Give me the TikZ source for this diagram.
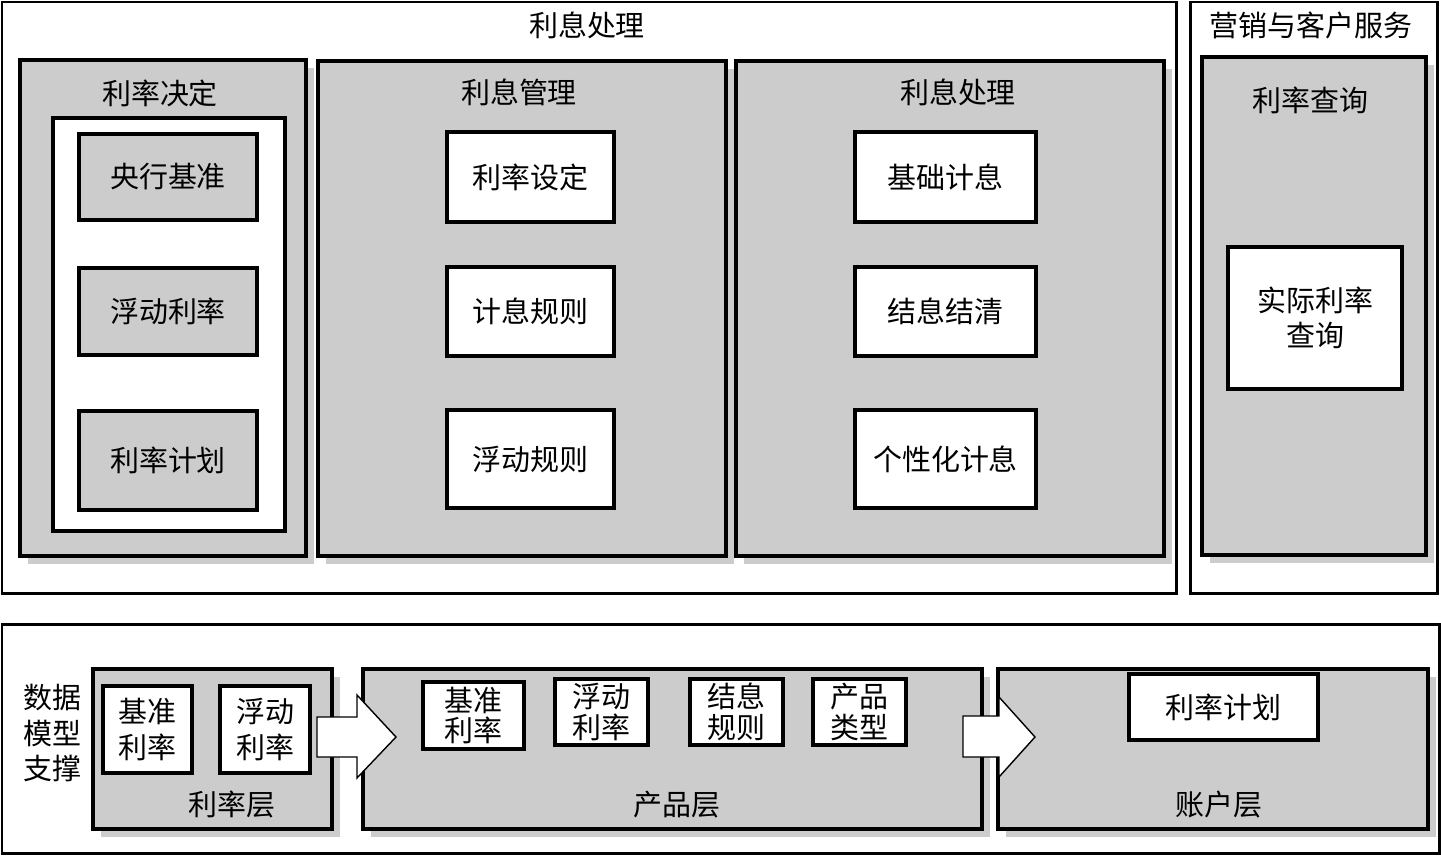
\documentclass[tikz,border=0pt]{standalone}
\usepackage{fontspec}
\setmainfont{Noto Sans CJK SC}
\usetikzlibrary{shadows,positioning}

\begin{document}
\begin{tikzpicture}[
    x=0.02cm, y=-0.02cm,
    font=\fontsize{16.5}{20}\selectfont,
    px_size/.style 2 args={minimum width=#1*0.02cm, minimum height=#2*0.02cm},
    outer_box/.style={draw, line width=1.7pt, inner sep=0pt},
    gray_box/.style={draw, line width=2.2pt, fill=black!20, inner sep=0pt,
        drop shadow={shadow xshift=0.16cm, shadow yshift=-0.16cm, fill=black!20, opacity=1}},
    frame_box/.style={draw, line width=2.2pt, fill=white, inner sep=0pt},
    item_box/.style={draw, line width=2.2pt, fill=white, inner sep=0pt, align=center},
    gitem_box/.style={item_box, fill=black!20},
    tight/.style={font=\fontsize{16.5}{17.5}\selectfont},
    title/.style={inner sep=0pt, align=center},
    big_arrow/.style={draw, fill=white, line width=0.8pt}
]
    \useasboundingbox (0,0) rectangle (1441,856);

    % Top: interest processing
    \node[outer_box, px_size={1174}{591}] (proc) at (589,297.5) {};
    \node[title] (proc_t) at (587,25) {利息处理};
    \node[outer_box, px_size={247}{591}] (mkt) at (1313.5,297.5) {};
    \node[title] (mkt_t) at (1311,25) {营销与客户服务};

    % rate decision
    \node[gray_box, px_size={286}{496}] (dec) at (163,308) {};
    \node[title] (dec_t) at (160,93) {利率决定};
    \node[frame_box, px_size={232}{413}] (dec_in) at (169,324.5) {};
    \node[gitem_box, px_size={178}{86}] (cb) at (168,177) {央行基准};
    \node[gitem_box, px_size={178}{87}] (flt) at (168,311.5) {浮动利率};
    \node[gitem_box, px_size={178}{99}] (plan) at (168,460.5) {利率计划};

    % interest management
    \node[gray_box, px_size={408}{495}] (mgmt) at (522,308.5) {};
    \node[title] (mgmt_t) at (519,92) {利息管理};
    \node[item_box, px_size={167}{90}] (set) at (530.5,177) {利率设定};
    \node[item_box, px_size={167}{89}] (rule) at (530.5,311.5) {计息规则};
    \node[item_box, px_size={167}{98}] (frule) at (530.5,459) {浮动规则};

    % interest handling
    \node[gray_box, px_size={428}{495}] (hdl) at (950,308.5) {};
    \node[title] (hdl_t) at (958,92) {利息处理};
    \node[item_box, px_size={181}{90}] (base) at (945.5,177) {基础计息};
    \node[item_box, px_size={181}{89}] (settle) at (945.5,311.5) {结息结清};
    \node[item_box, px_size={181}{98}] (pers) at (945.5,459) {个性化计息};

    % rate query
    \node[gray_box, px_size={224}{498}] (qry) at (1314,306) {};
    \node[title] (qry_t) at (1310,100) {利率查询};
    \node[item_box, px_size={174}{142}] (act) at (1315,318) {实际利率\\查询};

    % Bottom: data model support
    \node[outer_box, px_size={1437}{229}] (data) at (720.5,738.5) {};
    \node[title] (data_t) at (52,733) {数据\\模型\\支撑};

    \node[gray_box, px_size={239}{160}] (rl) at (212.5,749) {};
    \node[title] (rl_t) at (232,805) {利率层};
    \node[item_box, px_size={89}{87}] (rl_b) at (147.5,729.5) {基准\\利率};
    \node[item_box, px_size={90}{87}] (rl_f) at (265,729.5) {浮动\\利率};

    \node[gray_box, px_size={619}{160}] (pl) at (672.5,749) {};
    \node[title] (pl_t) at (677,805) {产品层};
    \node[item_box, tight, px_size={101}{67}] (pl_b) at (473.5,715.5) {基准\\利率};
    \node[item_box, tight, px_size={93}{66}] (pl_f) at (601.5,712) {浮动\\利率};
    \node[item_box, tight, px_size={93}{66}] (pl_s) at (736.5,712) {结息\\规则};
    \node[item_box, tight, px_size={93}{66}] (pl_k) at (859.5,712) {产品\\类型};

    \node[gray_box, px_size={430}{160}] (al) at (1213,749) {};
    \node[title] (al_t) at (1219,805) {账户层};
    \node[item_box, px_size={189}{66}] (al_p) at (1223.5,707) {利率计划};

    % block arrows between layers
    \draw[big_arrow] (317,717) -- (357,717) -- (357,695) -- (396,737)
        -- (357,778) -- (357,757) -- (317,757) -- cycle;
    \draw[big_arrow] (963,716) -- (999,716) -- (999,697) -- (1035,737)
        -- (999,777) -- (999,757) -- (963,757) -- cycle;

\end{tikzpicture}
\end{document}
